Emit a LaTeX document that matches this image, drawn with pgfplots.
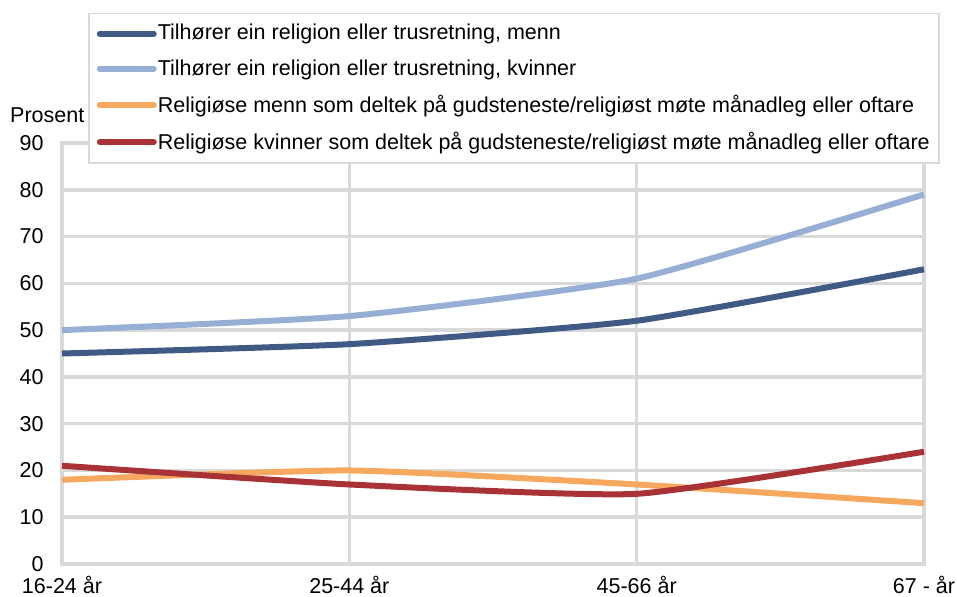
\documentclass[border=0pt]{standalone}
\usepackage{pgfplots}
\pgfplotsset{compat=1.18}
\usepackage{fontspec}
\setmainfont{Liberation Sans}
\definecolor{dblue}{HTML}{3F5A84}
\definecolor{lblue}{HTML}{98AFD5}
\definecolor{orng}{HTML}{F6A95E}
\definecolor{dred}{HTML}{A83236}
\definecolor{gridc}{HTML}{D9D9D9}
\begin{document}
\fontsize{21.5bp}{25bp}\selectfont
\begin{tikzpicture}
\useasboundingbox (-62bp,-33bp) rectangle (895bp,564bp);
\begin{axis}[
 scale only axis, width=862bp, height=421bp,
 xmin=0, xmax=3, ymin=0, ymax=90,
 clip=false,
 xtick={0,1,2,3}, xticklabels={16-24 år,25-44 år,45-66 år,67 - år},
 ytick={0,10,...,90},
 grid=major, major grid style={gridc, line width=3.5bp},
 axis line style={gridc, line width=3.5bp},
 tick style={draw=none},
 ticklabel style={font=\fontsize{21.5bp}{25bp}\selectfont},
 yticklabel style={xshift=-11bp},
 xticklabel style={yshift=-5bp},
 /pgf/number format/assume math mode=true,
 legend cell align=left,
 legend style={at={(0.0302,1.309)}, anchor=north west, draw=gridc, line width=1.5bp, fill=white,
   font=\fontsize{21.5bp}{25bp}\selectfont, row sep=12.5bp, inner xsep=8bp, inner ysep=8.5bp,
   nodes={inner xsep=1bp}},
 legend image code/.code={\draw[line width=6bp, line cap=round, #1] (0bp,0bp) -- (54bp,0bp);},
 every axis plot/.append style={line width=6bp, smooth, tension=0.3, no markers},
]
\addplot[dblue] coordinates {(0,45) (1,47) (2,52) (3,63)};
\addlegendentry{Tilhører ein religion eller trusretning, menn}
\addplot[lblue] coordinates {(0,50) (1,53) (2,61) (3,79)};
\addlegendentry{Tilhører ein religion eller trusretning, kvinner}
\addplot[orng] coordinates {(0,18) (1,20) (2,17) (3,13)};
\addlegendentry{Religiøse menn som deltek på gudsteneste/religiøst møte månadleg eller oftare}
\addplot[dred] coordinates {(0,21) (1,17) (2,15) (3,24)};
\addlegendentry{Religiøse kvinner som deltek på gudsteneste/religiøst møte månadleg eller oftare}
\node[anchor=base west, inner sep=0pt, font=\fontsize{21.5bp}{25bp}\selectfont] at (rel axis cs:0,1) [xshift=-52bp, yshift=20bp] {Prosent};
\end{axis}
\end{tikzpicture}
\end{document}
